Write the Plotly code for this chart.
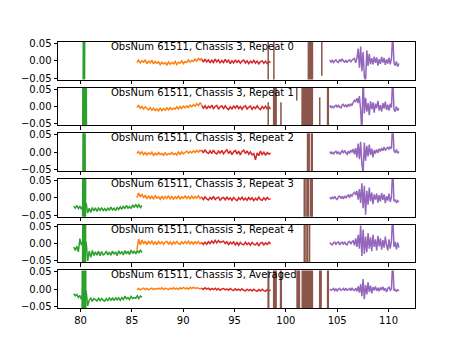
import numpy as np
import plotly.graph_objects as go
from plotly.subplots import make_subplots

# ---------------- labels / ticks ----------------
panel_titles = [
    "ObsNum 61511, Chassis 3, Repeat 0",
    "ObsNum 61511, Chassis 3, Repeat 1",
    "ObsNum 61511, Chassis 3, Repeat 2",
    "ObsNum 61511, Chassis 3, Repeat 3",
    "ObsNum 61511, Chassis 3, Repeat 4",
    "ObsNum 61511, Chassis 3, Averaged",
]
x_ticks = [80, 85, 90, 95, 100, 105, 110]
y_ticks = [-0.05, 0.0, 0.05]
y_tick_labels = ["\u22120.05", "0.00", "0.05"]

# frequency spans (GHz) of the evenly sampled segments
green_span = (79.33, 85.98)
orange_span = (85.49, 91.80)
red_span = (91.80, 98.51)
purple_span = (104.28, 111.01)

# ---------------- values (units of 1e-3) ----------------
# green strong line near 80.3 GHz (off scale both ways)
green_r0_spike_x = [80.22, 80.29, 80.36, 80.43]
green_r0_spike = [-300, 300, -300, 300]
green_r1_spike_x = [80.18, 80.25, 80.32, 80.39, 80.46, 80.53, 80.60]
green_r1_spike = [-300, 300, -300, 300, -300, 300, -300]
green_r2_spike_x = [80.20, 80.27, 80.34, 80.41, 80.48]
green_r2_spike = [-300, 300, -300, 300, -300]
green_r3_spike_x = [80.17, 80.24, 80.31, 80.38, 80.45, 80.52]
green_r3_spike = [-300, 300, -300, 300, -300, 300]
green_r4_spike_x = [80.17, 80.24, 80.31, 80.38, 80.45, 80.52]
green_r4_spike = [-300, 300, -300, 300, -300, 300]
green_avg_spike_x = [80.12, 80.19, 80.26, 80.33, 80.40, 80.47, 80.54]
green_avg_spike = [-300, 300, -300, 300, -300, 300, -300]
# green baseline (only on scale for repeats 3, 4 and the average)
green_r3 = [-24, -30, -22, -31, -25, -33, -20, -45, -15, -44,
            -30, -42, -28, -38, -29, -39, -30, -36, -28, -37,
            -31, -38, -29, -36, -27, -35, -30, -37, -27, -34,
            -26, -33, -24, -31, -22, -30, -25, -31, -20, -28,
            -19, -27, -20, -28, -22]
green_r4 = [-10, -20, -8, -24, 14, -5, 8, -48, 5, -50,
            -22, -40, -20, -35, -24, -34, -22, -35, -23, -33,
            -30, -22, -33, -25, -34, -22, -31, -24, -35, -21,
            -31, -23, -33, -20, -30, -22, -32, -19, -29, -21,
            -30, -20, -28, -18, -26]
green_avg = [-13, -19, -15, -24, -18, -30, -10, -52, -5, -48,
             -32, -26, -35, -27, -30, -34, -26, -33, -27, -32,
             -34, -27, -33, -25, -32, -26, -33, -24, -31, -25,
             -32, -24, -30, -20, -28, -24, -30, -21, -27, -24,
             -26, -19, -27, -20, -23]

orange_r0 = [-5, 2, -6, 0, -4, 3, -8, -1, -6, 2, -9, -2, -7, -3, -11, -4, -9, -5, -12, -3,
             -10, -5, -9, -2, -11, -4, -7, 0, -8, -2, -5, 3, -4, 1, -2, 5, -1, 7, 2, 8]
orange_r1 = [-3, 3, -5, 0, -7, -1, -6, -10, -3, -11, -5, -12, -7, -13, -4, -12, -6, -11, -4, -10,
             -3, -9, -5, -8, -1, -7, 0, -6, 1, -4, 2, -3, 4, -1, 5, 1, 8, 3, 10, 5]
orange_r2 = [-4, 2, -5, 1, -7, -1, -8, -2, -6, 0, -9, -3, -8, -1, -7, -4, -9, -2, -8, -4,
             -6, -1, -7, -3, -8, 0, -6, 1, -5, -1, 3, -3, 2, -2, 4, -1, 5, 0, 6, 2]
orange_r3 = [0, 14, 3, 11, 0, 8, -3, 6, -2, 5, -4, 6, -1, 3, -4, 5, -3, 4, -2, 6,
             -3, 4, -4, 3, -2, 5, -3, 3, -1, 5, -2, 4, -3, 5, -2, 4, -1, 6, -2, 3]
orange_r4 = [-18, 13, -4, 10, -1, 7, -3, 6, 0, 7, -2, 5, -3, 6, -1, 5, -2, 4, 6, -2,
             5, -3, 5, -1, 6, 0, -2, 5, -1, 6, 0, 7, -1, 5, -2, 5, 0, 6, -1, 4]
orange_avg = [-2, 2, -2, 1, 3, -1, 2, -2, 1, 3, -1, 2, 0, 3, 0, 4, -1, 3, 1, -1,
              3, 0, 4, 0, 3, -1, 4, 1, 5, 1, 4, 0, 5, 2, 6, 2, 4, 3, 1, 4]

red_r0 = [4, -4, 5, -3, 3, -6, 2, -5, 5, -3, 3, -7, 1, -5, 4, -4, 2, -8, 0, -6, 3,
          -5, 1, -7, -1, 2, -6, 0, -8, -1, -6, 1, -7, -1, -9, -2, 0, -7, -1, -8, -2, -5]
red_r1 = [3, -5, 2, -7, 1, -4, 4, -6, 0, 3, -8, -1, 2, -6, 2, -5, -9, -1, -7, 1, -5,
          3, -6, 0, -8, -1, 2, -7, -2, 1, -8, -1, -6, 2, -5, -9, 0, -6, 1, -7, -1, -7]
red_r2 = [6, -2, 7, -1, -4, 4, -4, 6, -2, -5, 3, -3, 5, -5, 2, 7, -4, 4, -7, 1, 5,
          -5, 3, -8, 2, 6, -4, 4, -6, 1, -8, -4, -22, -2, -10, 3, -7, 0, -9, -1, -6, -2]
red_r3 = [2, -5, 3, -3, -6, 1, -4, 4, -5, 0, 2, -7, -1, 1, -6, 3, -5, 0, -7, 1, -4,
          -8, 0, -5, 2, -6, -1, -7, 1, -5, 0, -8, -1, -6, 2, -5, -7, 0, -6, 1, -4, -3]
red_r4 = [3, -3, 4, -2, 5, 0, 7, 1, 9, 2, 9, 3, 5, 7, 0, 5, -3, 4, -1, 5, -4,
          3, -5, 3, -2, -4, 4, -3, 2, -5, 3, -2, -4, 2, -6, 1, 3, -4, 2, -3, 4, -1]
red_avg = [3, -1, 4, 0, 3, -2, 2, -1, 3, -2, 2, -3, 1, 2, -2, 1, -3, 2, -2, -4, 1,
           -3, 0, -4, 1, -3, -5, 0, -4, -1, -5, 0, -4, -6, -1, -5, 0, -4, -6, -1, -5, -2]

purple_r0 = [2, -4, 1, -5, 0, 3, -3, -5, 4, -2,
             6, -1, -4, 2, -5, 1, 3, -4, 2, 5,
             7, -6, 8, 35, -20, 41, -30, 25, -45, -60,
             30, -15, 20, -10, 8, -10, 12, -6, 10, -14,
             5, -9, 11, -5, 8, -12, 4, -8, 9, -10,
             6, 80, -5, -14, -2, -17, -8]
purple_r1 = [3, -4, 2, -5, 1, 4, -3, 5, -2, -4,
             4, 6, -1, 5, -2, 7, 0, 8, 3, 12,
             18, 14, 24, 10, 30, -10, -80, 90, -20, 25,
             -15, 10, -25, 15, -8, 12, -18, 8, -5, 16,
             -12, 4, -15, 10, -6, 14, -10, 5, -12, 8,
             -3, 90, -8, -15, 0, -12, -5]
purple_r2 = [2, -5, 1, -6, 0, 3, -5, 2, -7, -1,
             4, -3, 5, -2, -6, 3, -4, 6, -1, 9,
             -6, 12, -15, 25, -20, 30, -35, -60, 28, -25,
             18, -12, 22, -8, 10, -15, 6, -4, 8, -2,
             10, 2, 12, 4, 15, 6, 10, 14, 8, 16,
             10, 90, 5, -2, 8, -3, 2]
purple_r3 = [2, -4, 3, -3, 4, -2, -5, 3, 5, -2,
             4, -3, 6, -1, 5, 8, 0, 10, 4, 13,
             16, 8, 20, -5, 25, -15, 42, -30, 35, -49,
             20, -20, 30, -10, 15, -18, 10, -5, 12, -14,
             8, -10, 14, -6, 10, -15, 5, -8, 12, -12,
             3, 90, -10, -5, -15, -8, -12]
purple_r4 = [3, -2, -4, 2, 4, -3, 3, 5, -4, 2,
             4, -3, 5, -2, -4, 4, 6, -2, 5, 8,
             -5, 15, -10, 25, -15, 52, -36, 40, -30, 20,
             -25, 30, -15, 18, -22, 25, -10, 12, -20, 22,
             -8, 15, -18, 10, -12, 20, -5, -20, 12, -15,
             8, 90, -10, 5, -17, 3, -12]
purple_avg = [0, -3, -1, 2, -4, 1, -5, 0, 2, -3,
              -1, 2, -4, 3, -3, -1, 2, -4, 4, -2,
              -4, 3, -6, 8, -10, 15, -20, 29, -29, 12,
              -15, 20, -8, 10, -12, 6, -3, 8, -5, 4,
              -6, 5, -2, 7, -4, 3, -8, 2, 6, -3,
              1, 90, -4, -1, -6, -2, -5]

# brown: bursts of strong (off-scale) values, grouped by burst
brown_r0_x = [[98.26, 98.30], [98.81, 98.85],
              [102.15, 102.23, 102.31, 102.39, 102.47, 102.55, 102.63],
              [103.48, 103.50, 103.52]]
brown_r0 = [[-1000, 1000], [-1000, 1000],
            [-1000, 1000, -1000, 1000, -1000, 1000, -1000],
            [1000, -43, 1000]]
brown_r1_x = [[98.26, 98.28, 98.30], [98.77, 98.85, 98.93, 99.01, 99.09],
              [99.46, 99.52, 99.58], [100.98, 101.06, 101.14],
              [101.53, 101.63, 101.73, 101.83, 101.93, 102.03, 102.13, 102.23,
               102.33, 102.43, 102.53, 102.63],
              [103.27, 103.30, 103.33], [104.03, 104.10, 104.17]]
brown_r1 = [[-1000, 12, -1000], [-1000, 1000, -1000, 1000, -1000],
            [-1000, 12, -1000], [1000, 17, 1000],
            [-1000, 1000, -1000, 1000, -1000, 1000, -1000, 1000,
             -1000, 1000, -1000, 1000],
            [-1000, 27, -1000], [-1000, 1000, -1000]]
brown_r2_x = [[102.07, 102.15, 102.23, 102.31], [102.45, 102.53, 102.61]]
brown_r2 = [[-1000, 1000, -1000, 1000], [-1000, 1000, -1000]]
brown_r3_x = [[101.75, 101.83, 101.91], [102.01, 102.09, 102.17, 102.25],
              [102.37, 102.45, 102.53, 102.61]]
brown_r3 = [[-1000, 1000, -1000], [-1000, 1000, -1000, 1000],
            [-1000, 1000, -1000, 1000]]
brown_r4_x = [[101.75, 101.83, 101.91], [102.01, 102.09, 102.17], [102.27, 102.35]]
brown_r4 = [[-1000, 1000, -1000], [-1000, 1000, -1000], [-1000, 1000]]
brown_avg_x = [[98.24, 98.30, 98.36], [98.77, 98.85, 98.93, 99.01, 99.09],
               [99.45, 99.52, 99.59], [101.05, 101.13, 101.21, 101.29, 101.35],
               [101.55, 101.64, 101.73, 101.82, 101.91, 102.00, 102.09, 102.18,
                102.27, 102.36, 102.45, 102.54, 102.63],
               [103.26, 103.33, 103.40, 103.47], [104.03, 104.10, 104.17]]
brown_avg = [[-1000, 1000, -1000], [-1000, 1000, -1000, 1000, -1000],
             [-1000, 1000, -1000], [-1000, 1000, -1000, 1000, -1000],
             [-1000, 1000, -1000, 1000, -1000, 1000, -1000, 1000,
              -1000, 1000, -1000, 1000, -1000],
             [-1000, 1000, -1000, 1000], [-1000, 1000, -1000]]


def milli(vals):
    return [None if v is None else v / 1000.0 for v in vals]


def grid(span, vals):
    return list(np.linspace(span[0], span[1], len(vals)))


def join_groups(groups):
    out = []
    for i, g in enumerate(groups):
        if i:
            out.append(None)
        out.extend(g)
    return out


panels = [
    dict(green_base=None, spike=(green_r0_spike_x, green_r0_spike), orange=orange_r0, red=red_r0,
         purple=purple_r0, brown=(brown_r0_x, brown_r0)),
    dict(green_base=None, spike=(green_r1_spike_x, green_r1_spike), orange=orange_r1, red=red_r1,
         purple=purple_r1, brown=(brown_r1_x, brown_r1)),
    dict(green_base=None, spike=(green_r2_spike_x, green_r2_spike), orange=orange_r2, red=red_r2,
         purple=purple_r2, brown=(brown_r2_x, brown_r2)),
    dict(green_base=green_r3, spike=(green_r3_spike_x, green_r3_spike), orange=orange_r3, red=red_r3,
         purple=purple_r3, brown=(brown_r3_x, brown_r3)),
    dict(green_base=green_r4, spike=(green_r4_spike_x, green_r4_spike), orange=orange_r4, red=red_r4,
         purple=purple_r4, brown=(brown_r4_x, brown_r4)),
    dict(green_base=green_avg, spike=(green_avg_spike_x, green_avg_spike), orange=orange_avg, red=red_avg,
         purple=purple_avg, brown=(brown_avg_x, brown_avg)),
]

C_ORANGE, C_GREEN, C_RED, C_PURPLE, C_BROWN = "#ff7f0e", "#2ca02c", "#d62728", "#9467bd", "#8c564b"

W, H = 461, 346
ML, MR, MT, MB = 57.6, 46.1, 41.5, 38.0
plot_h = H - MT - MB
axh = plot_h / 6.6
gap = 0.2 * axh

fig = make_subplots(rows=6, cols=1, shared_xaxes=True, vertical_spacing=gap / plot_h)


def line(x, y, color):
    return go.Scatter(x=list(x), y=y, mode="lines", line=dict(color=color, width=1.5, simplify=False),
                      hoverinfo="skip", showlegend=False)


for i, p in enumerate(panels):
    r = i + 1
    fig.add_trace(line(grid(orange_span, p["orange"]), milli(p["orange"]), C_ORANGE), row=r, col=1)
    sx, sy = p["spike"]
    gx, gy = [], []
    if p["green_base"] is not None:
        gx = grid(green_span, p["green_base"]) + [None]
        gy = list(p["green_base"]) + [None]
    fig.add_trace(line(gx + list(sx), milli(gy + list(sy)), C_GREEN), row=r, col=1)
    fig.add_trace(line(grid(red_span, p["red"]), milli(p["red"]), C_RED), row=r, col=1)
    fig.add_trace(line(grid(purple_span, p["purple"]), milli(p["purple"]), C_PURPLE), row=r, col=1)
    bx, by = p["brown"]
    fig.add_trace(line(join_groups(bx), milli(join_groups(by)), C_BROWN), row=r, col=1)

    axis_common = dict(showline=True, linecolor="black", linewidth=0.8, mirror=True,
                       ticks="outside", ticklen=3.5, tickwidth=0.8, tickcolor="black",
                       showgrid=False, zeroline=False,
                       tickfont=dict(family="DejaVu Sans", size=10, color="black"))
    fig.update_xaxes(range=[77.80, 112.58], tickvals=x_ticks, ticktext=[str(t) for t in x_ticks],
                     showticklabels=(r == 6), row=r, col=1, **axis_common)
    fig.update_yaxes(range=[-0.0543, 0.0543], tickvals=y_ticks, ticktext=y_tick_labels,
                     row=r, col=1, **axis_common)

    xref = "x" if r == 1 else f"x{r}"
    yref = ("y" if r == 1 else f"y{r}") + " domain"
    fig.add_annotation(x=82.9, y=1.0, xref=xref, yref=yref, text=panel_titles[i],
                       showarrow=False, xanchor="left", yanchor="top", yshift=2,
                       borderpad=0, font=dict(family="DejaVu Sans", size=10, color="black"))

fig.update_layout(width=W, height=H, margin=dict(l=ML, r=MR, t=MT, b=MB, pad=0),
                  paper_bgcolor="white", plot_bgcolor="white", showlegend=False)

fig.write_html("out.html")
